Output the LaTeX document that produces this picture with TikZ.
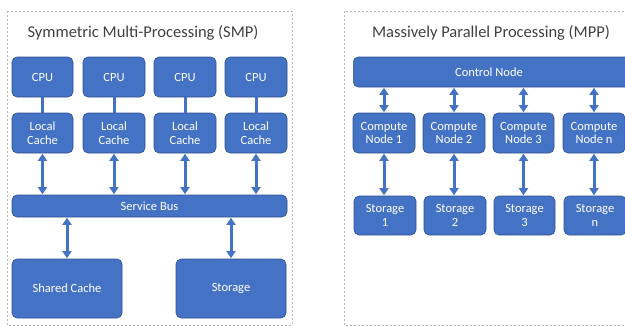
\documentclass[tikz,border=0pt]{standalone}
\usepackage{fontspec}
\setmainfont{Carlito}
\usetikzlibrary{arrows.meta}
\definecolor{boxblue}{HTML}{4472C4}
\definecolor{boxedge}{HTML}{2F528F}
\definecolor{titlegray}{HTML}{404040}
\definecolor{framegray}{HTML}{B8B8B8}
\tikzset{
  blk/.style={draw=boxedge, line width=0.6pt, fill=boxblue, rounded corners=5pt, text=white, font=\fontsize{12.5}{13.5}\selectfont, align=center, inner sep=0pt},
  frame/.style={draw=framegray, line width=1pt, dash pattern=on 2pt off 2pt},
  title/.style={text=titlegray, font=\fontsize{16.5}{18}\selectfont},
  link/.style={draw=boxblue, line width=3pt},
  dbl/.style={draw=boxblue, line width=3pt, {Triangle[length=7pt,width=9pt]}-{Triangle[length=7pt,width=9pt]}, shorten <=0.5pt, shorten >=0.5pt},
}
\begin{document}
\begin{tikzpicture}[x=1pt,y=-1pt]
\useasboundingbox (0,0) rectangle (625,327);
\clip (0,0) rectangle (625,327);
% frames
\draw[frame] (7,11) rectangle (292,325);
\draw[frame] (344,11) rectangle (640,325);
\node[title] (t1) at (143,33) {Symmetric Multi-Processing (SMP)};
\node[title] (t2) at (491,33) {Massively Parallel Processing (MPP)};
% SMP
\foreach \i/\xa/\xb in {1/12/73, 2/83/145, 3/154/216, 4/225/287}{
  \node[blk, minimum width={(\xb-\xa)*1pt}, minimum height=40pt] (cpu\i) at ({(\xa+\xb)/2},77) {CPU};
  \node[blk, minimum width={(\xb-\xa)*1pt}, minimum height=40pt] (lc\i) at ({(\xa+\xb)/2},133) {Local\\Cache};
}
\node[blk, minimum width=275pt, minimum height=22pt] (bus) at (149.5,206) {Service Bus};
\node[blk, minimum width=110pt, minimum height=59pt] (sc) at (67,288.5) {Shared Cache};
\node[blk, minimum width=110pt, minimum height=59pt] (st) at (231,288.5) {Storage};
\foreach \i in {1,...,4}{
  \draw[link] (cpu\i.south) -- (lc\i.north);
  \draw[dbl] (lc\i.south) -- (lc\i.south |- bus.north);
}
\draw[dbl] (bus.south -| sc.north) -- (sc.north);
\draw[dbl] (bus.south -| st.north) -- (st.north);
% MPP
\node[blk, minimum width=290pt, minimum height=30pt, anchor=west] (cn) at (353,72) {};
\node[text=white, font=\fontsize{12.5}{13.5}\selectfont] (cnl) at (489,72) {Control Node};
\foreach \i/\xa/\xb/\lab in {1/353/415/1, 2/423/485/2, 3/493/554/3, 4/563/625/n}{
  \node[blk, minimum width={(\xb-\xa)*1pt}, minimum height=40pt] (cp\i) at ({(\xa+\xb)/2},133) {Compute\\Node \lab};
  \node[blk, minimum width={(\xb-\xa)*1pt}, minimum height=39pt] (sg\i) at ({(\xa+\xb)/2+1},215.5) {Storage\\\lab};
  \draw[dbl] (cp\i.north |- cn.south) -- (cp\i.north);
  \draw[dbl] (cp\i.south) -- (cp\i.south |- sg\i.north);
}
\end{tikzpicture}
\end{document}
